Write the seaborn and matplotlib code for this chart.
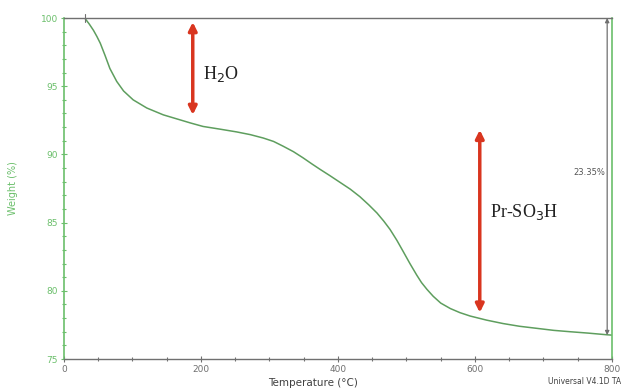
import matplotlib
matplotlib.use("Agg")
import matplotlib.pyplot as plt
import numpy as np
import pandas as pd
import seaborn as sns
from matplotlib.ticker import MultipleLocator

# TGA curve
temperature = [31, 37, 43, 48, 53, 60, 67, 77, 87, 101, 121, 145, 165, 185,
               203, 228, 252, 272, 291, 306, 320, 335, 349, 362, 374, 388,
               403, 418, 432, 445, 457, 467, 476, 486, 495, 505, 515, 522,
               530, 539, 550, 564, 578, 593, 617, 641, 665, 690, 715, 739,
               765, 792, 800]
weight = [99.95, 99.55, 99.1, 98.65, 98.15, 97.25, 96.3, 95.35, 94.65, 94.0,
          93.4, 92.9, 92.6, 92.3, 92.05, 91.85, 91.65, 91.45, 91.2, 90.95,
          90.6, 90.2, 89.75, 89.3, 88.9, 88.45, 87.95, 87.45, 86.9, 86.3,
          85.7, 85.1, 84.5, 83.7, 82.9, 82.0, 81.15, 80.6, 80.1, 79.6, 79.1,
          78.7, 78.4, 78.15, 77.85, 77.6, 77.4, 77.25, 77.1, 77.0, 76.9,
          76.78, 76.75]

loss_label = "23.35%"
h2o_arrow = (188, 99.7, 92.9)
prso3h_arrow = (607, 91.8, 78.4)

GREEN = "#5e9e5e"
AXIS_GREEN = "#6bbf6b"
GRAY = "#707070"
RED = "#d9351f"

sns.set_style("white")

df = pd.DataFrame({"Temperature": temperature, "Weight": weight})

fig = plt.figure(figsize=(6.23, 3.89), dpi=100)
ax = fig.add_axes([0.1027, 0.0771, 0.8796, 0.8766])

sns.lineplot(data=df, x="Temperature", y="Weight", color=GREEN, lw=1.1, ax=ax)

ax.set_xlim(0, 800)
ax.set_ylim(75, 100)
ax.xaxis.set_major_locator(MultipleLocator(200))
ax.xaxis.set_minor_locator(MultipleLocator(50))
ax.yaxis.set_major_locator(MultipleLocator(5))
ax.yaxis.set_minor_locator(MultipleLocator(1))

ax.tick_params(axis="x", which="both", direction="inout", length=3, width=0.8,
               colors=GRAY, labelsize=6.5, pad=2, bottom=True)
ax.tick_params(axis="y", which="both", direction="inout", length=3, width=0.8,
               colors=AXIS_GREEN, labelsize=6.5, pad=2, left=True)
ax.tick_params(axis="y", which="major", length=5)
ax.tick_params(axis="x", which="major", length=4)

for side in ["left", "right"]:
    ax.spines[side].set_color(AXIS_GREEN)
    ax.spines[side].set_linewidth(1.2)
for side in ["top", "bottom"]:
    ax.spines[side].set_color(GRAY)
    ax.spines[side].set_linewidth(1.0)

ax.set_xlabel("Temperature (°C)", fontsize=7.5, color="#404040", labelpad=2)
ax.set_ylabel("Weight (%)", fontsize=7, color=AXIS_GREEN, labelpad=16)

# red annotation arrows
for x, y0, y1 in [h2o_arrow, prso3h_arrow]:
    ax.annotate("", xy=(x, y1), xytext=(x, y0),
                arrowprops=dict(arrowstyle="<|-|>", color=RED, lw=2.5,
                                mutation_scale=12, shrinkA=0, shrinkB=0))

ax.text(203, 95.9, "H$_2$O", fontsize=13, family="Liberation Serif",
        color="#222222", va="center")
ax.text(622, 85.8, "Pr-SO$_3$H", fontsize=13, family="Liberation Serif",
        color="#222222", va="center")

# step analysis marker
ax.annotate("", xy=(793, weight[-1]), xytext=(793, 100),
            arrowprops=dict(arrowstyle="<|-|>", color=GRAY, lw=0.9,
                            mutation_scale=6, shrinkA=0, shrinkB=0))
ax.text(790, 88.7, loss_label, fontsize=6, color="#555555", ha="right", va="center")
ax.plot([31, 31], [99.7, 100.3], color=GRAY, lw=0.8, clip_on=False)

fig.text(0.997, 0.008, "Universal V4.1D TA", fontsize=5.5, color="#404040",
         ha="right", va="bottom")
ax.xaxis.set_label_coords(0.455, -0.055)

fig.savefig("out.png", dpi=100)
